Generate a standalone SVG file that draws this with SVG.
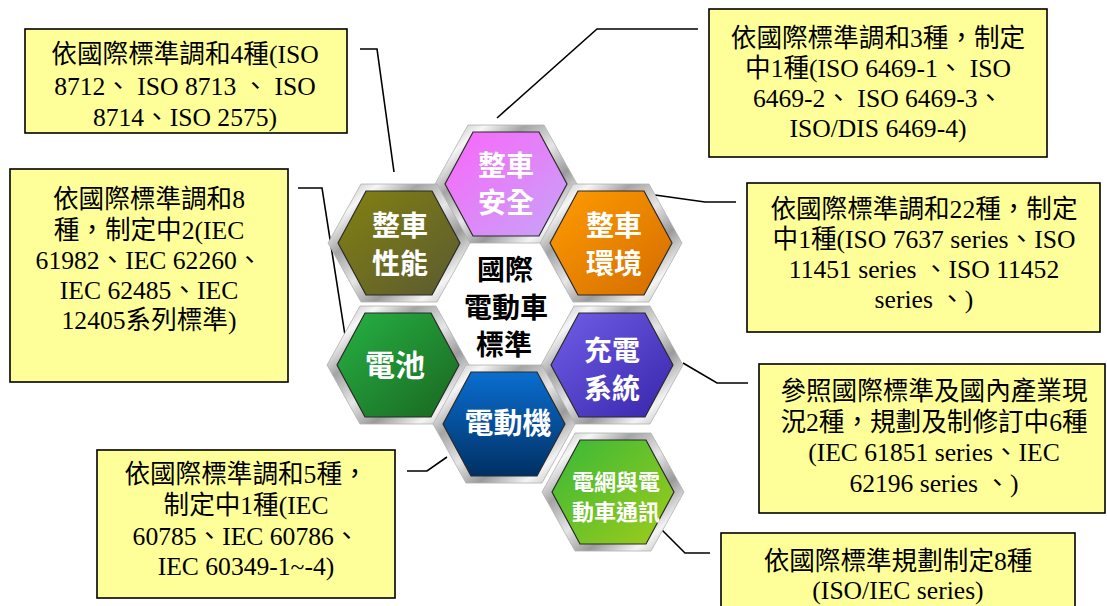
<svg xmlns="http://www.w3.org/2000/svg" xmlns:xlink="http://www.w3.org/1999/xlink" width="1107" height="606" viewBox="0 0 1107 606">
<style>
.box{fill:#ffff99;stroke:#000;stroke-width:1.6}
.bt{font-family:"Liberation Serif","Noto Sans CJK TC",serif;font-size:25.6px;fill:#000;text-anchor:middle}
.ht{font-family:"Noto Sans CJK TC",sans-serif;font-weight:700;font-size:28px;fill:#fff;text-anchor:middle}
.ct{font-family:"Noto Sans CJK TC",sans-serif;font-weight:700;font-size:28px;fill:#000;text-anchor:middle}
.frame{fill:url(#silver);stroke:#b0b0b0;stroke-width:0.8}
.inner{stroke:#2a2a2a;stroke-width:1.2}
.conn{fill:none;stroke:#000;stroke-width:1.6}
</style>
<defs>
<linearGradient id="silver" x1="0" y1="0" x2="1" y2="1">
<stop offset="0" stop-color="#a8a8a8"/>
<stop offset="0.18" stop-color="#f6f6f6"/>
<stop offset="0.32" stop-color="#a4a4a4"/>
<stop offset="0.5" stop-color="#e6e6e6"/>
<stop offset="0.66" stop-color="#9a9a9a"/>
<stop offset="0.82" stop-color="#f4f4f4"/>
<stop offset="1" stop-color="#a6a6a6"/>
</linearGradient>
<linearGradient id="gPink" x1="0" y1="0" x2="1" y2="1"><stop offset="0" stop-color="#fa66fa"/><stop offset="1" stop-color="#c6a4f6"/></linearGradient>
<linearGradient id="gOlive" x1="0" y1="0" x2="1" y2="1"><stop offset="0" stop-color="#838110"/><stop offset="1" stop-color="#5a5a32"/></linearGradient>
<linearGradient id="gOrange" x1="0" y1="0" x2="1" y2="1"><stop offset="0" stop-color="#ff9c00"/><stop offset="1" stop-color="#d46c00"/></linearGradient>
<linearGradient id="gGreen" x1="0" y1="0" x2="1" y2="1"><stop offset="0" stop-color="#26b244"/><stop offset="1" stop-color="#1a6620"/></linearGradient>
<linearGradient id="gPurple" x1="0" y1="0" x2="1" y2="1"><stop offset="0" stop-color="#725ee8"/><stop offset="1" stop-color="#3626aa"/></linearGradient>
<linearGradient id="gBlue" x1="0" y1="0" x2="0" y2="1"><stop offset="0" stop-color="#0a6ed0"/><stop offset="1" stop-color="#003064"/></linearGradient>
<linearGradient id="gLime" x1="0" y1="0" x2="1" y2="1"><stop offset="0" stop-color="#38b838"/><stop offset="1" stop-color="#a0cc1a"/></linearGradient>
<path id="ho" d="M-71,0 L-38,-59 L38,-59 L71,0 L38,59 L-38,59 Z"/>
<path id="hi" d="M-61,0 L-33,-52 L33,-52 L61,0 L33,52 L-33,52 Z"/>
</defs>
<rect width="1107" height="606" fill="#fff"/>

<g id="connectors">
<polyline class="conn" points="360,49 377,49 394,172"/>
<polyline class="conn" points="298,188 322,188 347,348"/>
<polyline class="conn" points="497,118 597,29 698,29"/>
<polyline class="conn" points="655,195 705,202 736,202"/>
<polyline class="conn" points="683,363 717,383 748,383"/>
<polyline class="conn" points="407,471 427,471 447,457"/>
<polyline class="conn" points="662,530 685,553 710,553"/>
</g>

<g id="hex-safety" transform="translate(506,184)">
<use href="#ho" class="frame"/>
<use href="#hi" class="inner" fill="url(#gPink)"/>
<text class="ht"><tspan x="0" y="-8.4">整車</tspan><tspan x="0" y="28.6">安全</tspan></text>
</g>
<g id="hex-performance" transform="translate(399,243)">
<use href="#ho" class="frame"/>
<use href="#hi" class="inner" fill="url(#gOlive)"/>
<text class="ht"><tspan x="1" y="-7.4">整車</tspan><tspan x="1" y="30.6">性能</tspan></text>
</g>
<g id="hex-environment" transform="translate(611,243)">
<use href="#ho" class="frame"/>
<use href="#hi" class="inner" fill="url(#gOrange)"/>
<text class="ht"><tspan x="3" y="-7.4">整車</tspan><tspan x="3" y="30.6">環境</tspan></text>
</g>
<g id="hex-battery" transform="translate(398,365)">
<use href="#ho" class="frame"/>
<use href="#hi" class="inner" fill="url(#gGreen)"/>
<text class="ht" x="-3" y="11" style="font-size:30px">電池</text>
</g>
<g id="hex-charging" transform="translate(612,365)">
<use href="#ho" class="frame"/>
<use href="#hi" class="inner" fill="url(#gPurple)"/>
<text class="ht"><tspan x="0" y="-4">充電</tspan><tspan x="0" y="34">系統</tspan></text>
</g>
<g id="hex-motor" transform="translate(504,424)">
<use href="#ho" class="frame"/>
<use href="#hi" class="inner" fill="url(#gBlue)"/>
<text class="ht" x="4" y="10" style="font-size:29px">電動機</text>
</g>
<g id="hex-grid" transform="translate(613,492)">
<use href="#ho" class="frame"/>
<use href="#hi" class="inner" fill="url(#gLime)"/>
<text class="ht" style="font-size:22px"><tspan x="3" y="-2">電網與電</tspan><tspan x="3" y="28">動車通訊</tspan></text>
</g>
<g id="center-title">
<text class="ct"><tspan x="505" y="280">國際</tspan><tspan x="506" y="317.5">電動車</tspan><tspan x="504" y="355">標準</tspan></text>
</g>

<g id="box-performance">
<rect class="box" x="25" y="29" width="322" height="104"/>
<text class="bt"><tspan x="185" y="63">依國際標準調和4種(ISO</tspan><tspan x="185" y="94.5">8712、 ISO 8713 、 ISO</tspan><tspan x="185" y="126">8714、ISO 2575)</tspan></text>
</g>
<g id="box-battery">
<rect class="box" x="10" y="169" width="278" height="213"/>
<text class="bt"><tspan x="149" y="208">依國際標準調和8</tspan><tspan x="149" y="238.5">種，制定中2(IEC</tspan><tspan x="149" y="268.5">61982、IEC 62260、</tspan><tspan x="149" y="298.5">IEC 62485、IEC</tspan><tspan x="149" y="328.5">12405系列標準)</tspan></text>
</g>
<g id="box-safety">
<rect class="box" x="709" y="9" width="338" height="148"/>
<text class="bt"><tspan x="878" y="46.5">依國際標準調和3種，制定</tspan><tspan x="878" y="76.5">中1種(ISO 6469-1、 ISO</tspan><tspan x="878" y="107">6469-2、 ISO 6469-3、</tspan><tspan x="878" y="137">ISO/DIS 6469-4)</tspan></text>
</g>
<g id="box-environment">
<rect class="box" x="747" y="183" width="353" height="149"/>
<text class="bt"><tspan x="924" y="218">依國際標準調和22種，制定</tspan><tspan x="924" y="248">中1種(ISO 7637 series、ISO</tspan><tspan x="924" y="278">11451 series 、ISO 11452</tspan><tspan x="924" y="308">series 、)</tspan></text>
</g>
<g id="box-charging">
<rect class="box" x="759" y="364" width="346" height="149"/>
<text class="bt"><tspan x="934" y="400">參照國際標準及國內產業現</tspan><tspan x="934" y="431">況2種，規劃及制修訂中6種</tspan><tspan x="934" y="461">(IEC 61851 series、IEC</tspan><tspan x="934" y="492">62196 series 、)</tspan></text>
</g>
<g id="box-motor">
<rect class="box" x="97" y="450" width="298" height="148"/>
<text class="bt"><tspan x="246" y="483">依國際標準調和5種，</tspan><tspan x="246" y="514">制定中1種(IEC</tspan><tspan x="246" y="545">60785、IEC 60786、</tspan><tspan x="246" y="575">IEC 60349-1~-4)</tspan></text>
</g>
<g id="box-grid">
<rect class="box" x="721" y="533" width="354" height="90"/>
<text class="bt"><tspan x="898" y="570">依國際標準規劃制定8種</tspan><tspan x="898" y="599">(ISO/IEC series)</tspan></text>
</g>
</svg>
